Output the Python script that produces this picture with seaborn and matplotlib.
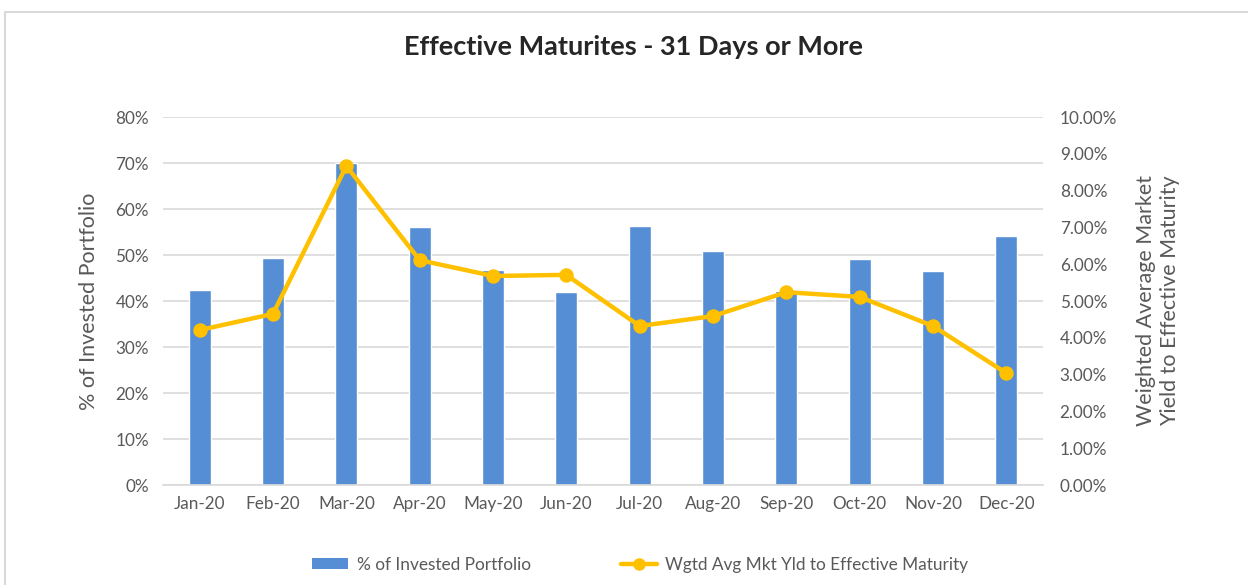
import matplotlib
matplotlib.use("Agg")
import matplotlib.pyplot as plt
import seaborn as sns
import pandas as pd
import numpy as np
from matplotlib.ticker import FuncFormatter, MultipleLocator, FixedLocator
from matplotlib.patches import Rectangle
from matplotlib.lines import Line2D
from matplotlib.patches import Patch

months = ["Jan-20", "Feb-20", "Mar-20", "Apr-20", "May-20", "Jun-20",
          "Jul-20", "Aug-20", "Sep-20", "Oct-20", "Nov-20", "Dec-20"]
pct_invested = [42.4, 49.3, 70.0, 56.1, 46.7, 42.0, 56.3, 50.9, 42.2, 49.1, 46.5, 54.1]
wgtd_yield = [4.21, 4.65, 8.67, 6.11, 5.68, 5.71, 4.32, 4.59, 5.24, 5.11, 4.32, 3.04]

BAR_COLOR = "#558ED5"
LINE_COLOR = "#FFC000"
TEXT = "#595959"
GRID = "#D9D9D9"

sns.set_theme(style="white")
plt.rcParams["font.family"] = ["Lato", "DejaVu Sans"]

df = pd.DataFrame({"month": months, "pct": pct_invested, "yld": wgtd_yield})

fig = plt.figure(figsize=(12.48, 5.85), dpi=100)
fig.patch.set_facecolor("white")
ax = fig.add_axes([163/1248, 1-485/585, (1043-163)/1248, (485-117)/585])

sns.barplot(data=df, x="month", y="pct", color=BAR_COLOR, width=0.30,
            saturation=1, ax=ax, zorder=2)
ax.set_ylim(0, 80)
ax.yaxis.set_major_locator(MultipleLocator(10))
ax.yaxis.set_major_formatter(FuncFormatter(lambda v, p: f"{v:.0f}%"))
ax.grid(axis="y", color=GRID, linewidth=1.2, zorder=0)
ax.set_axisbelow(True)
ax.set_xlabel("")
ax.set_ylabel("% of Invested Portfolio", fontsize=15.5, color=TEXT, labelpad=12)
for s in ["top", "right", "left"]:
    ax.spines[s].set_visible(False)
ax.spines["bottom"].set_color(GRID)
ax.spines["bottom"].set_linewidth(1.2)
ax.tick_params(axis="y", colors=TEXT, labelsize=12.3, length=0, pad=10)
ax.tick_params(axis="x", which="major", colors=TEXT, labelsize=12.3, length=0, pad=8)
ax.xaxis.set_minor_locator(FixedLocator(np.arange(-0.5, 12, 1.0)))
ax.tick_params(axis="x", which="minor", length=6, color=GRID, width=1.2)

ax2 = ax.twinx()
sns.pointplot(data=df, x="month", y="yld", color=LINE_COLOR, ax=ax2,
              markers="o", markersize=8, linewidth=3.2)
ax2.set_ylim(0, 10)
ax2.yaxis.set_major_locator(MultipleLocator(1))
ax2.yaxis.set_major_formatter(FuncFormatter(lambda v, p: f"{v:.2f}%"))
ax2.tick_params(axis="y", colors=TEXT, labelsize=12.3, length=0, pad=12)
ax2.set_ylabel("Weighted Average Market\nYield to Effective Maturity", fontsize=15.5,
               color=TEXT, labelpad=14)
ax2.set_xlabel("")
for s in ax2.spines.values():
    s.set_visible(False)
ax.set_xlim(-0.5, 11.5)
ax2.set_xlim(-0.5, 11.5)

fig.suptitle("Effective Maturites - 31 Days or More", x=0.508, y=1-47/585,
             va="center", fontsize=19.5, fontweight="bold", color="#262626")

handles = [Patch(facecolor=BAR_COLOR, edgecolor="none"),
           Line2D([0], [0], color=LINE_COLOR, linewidth=3.2, marker="o", markersize=8)]
labels = ["% of Invested Portfolio", "Wgtd Avg Mkt Yld to Effective Maturity"]
leg = fig.legend(handles, labels, loc="center", bbox_to_anchor=(0.513, 1-565/585),
                 ncol=2, frameon=False, fontsize=12.4, columnspacing=5.2,
                 handlelength=2.1, handleheight=0.6, handletextpad=0.5)
for t in leg.get_texts():
    t.set_color(TEXT)

fig.add_artist(Rectangle((5/1248, -0.05), 1.2, 1-12/585+0.05, transform=fig.transFigure,
                         fill=False, edgecolor="#D9D9D9", linewidth=1.5))

fig.savefig("out.png", dpi=100)
